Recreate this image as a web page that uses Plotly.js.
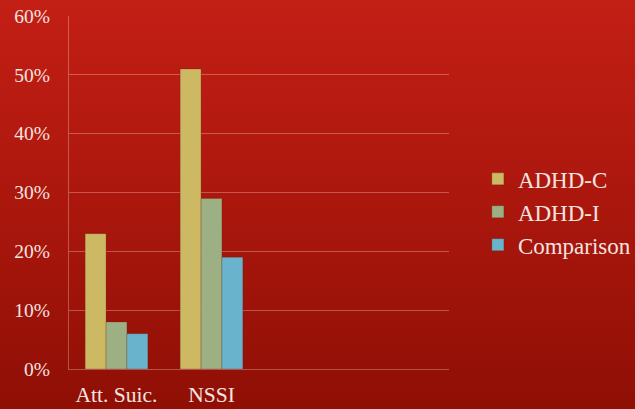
<!DOCTYPE html>
<html>
<head>
<meta charset="utf-8">
<script src="https://cdn.plot.ly/plotly-3.0.1.min.js"></script>
<style>
  html, body { margin: 0; padding: 0; }
  body {
    width: 635px; height: 409px; overflow: hidden;
    background: linear-gradient(to bottom, #C31F15 0%, #A8160C 55%, #8F0F05 100%);
  }
  #chart { width: 635px; height: 409px; }
</style>
</head>
<body>
<div id="chart"></div>
<script>
// Share of each group reporting the behaviour
const categories = ["Att. Suic.", "NSSI"];
const adhdC = [0.23, 0.51];
const adhdI = [0.08, 0.29];
const comparison = [0.06, 0.19];
const seriesNames = ["ADHD-C", "ADHD-I", "Comparison"];
const seriesColors = ["#CDB864", "#9DB083", "#6AB3CD"];
const yTicks = [0, 0.1, 0.2, 0.3, 0.4, 0.5, 0.6];

const seriesValues = [adhdC, adhdI, comparison];
const textColor = "#F3E4E0";
const gridColor = "rgba(255,235,230,0.3)";
const font = "Palatino Linotype, Book Antiqua, Palatino, Liberation Serif, serif";

const traces = seriesValues.map((vals, i) => ({
  type: "bar",
  name: seriesNames[i],
  x: categories,
  y: vals,
  legendgroup: "g" + i,
  marker: { color: seriesColors[i], line: { color: "rgba(90,40,20,0.25)", width: 1 } },
  hoverinfo: "skip"
}));

const layout = {
  width: 635,
  height: 409,
  paper_bgcolor: "rgba(0,0,0,0)",
  plot_bgcolor: "rgba(0,0,0,0)",
  margin: { l: 69, r: 186, t: 16, b: 40, pad: 0, autoexpand: false },
  font: { family: font, size: 21, color: textColor },
  barmode: "group",
  bargap: 0.34,
  bargroupgap: 0,
  showlegend: true,
  legend: {
    x: 1.076, xanchor: "left",
    y: 0.445, yanchor: "middle",
    bgcolor: "rgba(0,0,0,0)",
    traceorder: "grouped",
    tracegroupgap: 0,
    font: { family: font, size: 23, color: textColor }
  },
  xaxis: {
    type: "category",
    range: [-0.5, 3.5],
    showgrid: false,
    showline: true,
    linecolor: gridColor,
    linewidth: 1,
    ticks: "",
    ticklabelstandoff: 6,
    tickfont: { family: font, size: 21.5, color: textColor },
    zeroline: false,
    fixedrange: true
  },
  yaxis: {
    range: [0, 0.6],
    tickvals: yTicks,
    tickformat: ".0%",
    showgrid: true,
    gridcolor: gridColor,
    gridwidth: 1,
    showline: true,
    linecolor: gridColor,
    linewidth: 1,
    ticks: "",
    ticklabelstandoff: 14,
    tickfont: { family: font, size: 19.5, color: textColor },
    zeroline: false,
    fixedrange: true
  }
};

Plotly.newPlot("chart", traces, layout, { staticPlot: true, displayModeBar: false });
</script>
</body>
</html>
